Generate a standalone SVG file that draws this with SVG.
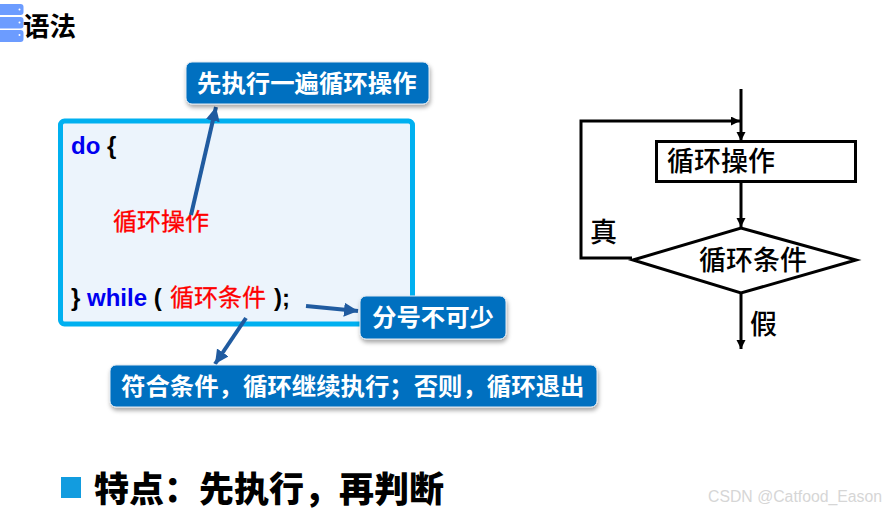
<svg xmlns="http://www.w3.org/2000/svg" width="886" height="511" viewBox="0 0 886 511">
<defs>
<style>
.cjk{font-family:"Liberation Sans","Noto Sans CJK SC",sans-serif}
.b{font-weight:700}
.callout{fill:#0070c0;stroke:#dfe8f0;stroke-width:1;filter:url(#sh)}
.ct{fill:#fff;font-size:24.400px;font-weight:700;font-family:"Liberation Sans","Noto Sans CJK SC",sans-serif}
.code{font-size:24px;font-weight:700;font-family:"Liberation Sans","Noto Sans CJK SC",sans-serif}
.red{fill:#f00;font-size:24px;stroke:#f00;stroke-width:.3;font-family:"Noto Sans CJK SC",sans-serif}
.fc{fill:#000;font-size:27px;font-weight:500;font-family:"Noto Sans CJK SC",sans-serif}
.bl{stroke:#205ba0;stroke-width:4;fill:none}
.k{stroke:#000;stroke-width:3;fill:none}
</style>
<filter id="sh" x="-10%" y="-20%" width="120%" height="150%"><feDropShadow dx="1" dy="3" stdDeviation="2" flood-color="#000" flood-opacity=".35"/></filter>
<marker id="ab" markerUnits="userSpaceOnUse" markerWidth="16" markerHeight="16" refX="14" refY="7" orient="auto"><path d="M0 0L14 7L0 14z" fill="#205ba0"/></marker>
<marker id="ak" markerUnits="userSpaceOnUse" markerWidth="10" markerHeight="10" refX="9" refY="4.500" orient="auto"><path d="M0 0L9 4.500L0 9z" fill="#000"/></marker>
</defs>
<rect width="886" height="511" fill="#fff"/>
<g id="header">
<g fill="#6c9cff"><rect x="-6" y="4" width="29.500" height="11" rx="3"/><rect x="-6" y="17" width="29.500" height="11.500" rx="3"/><rect x="-6" y="30" width="29.500" height="12" rx="3"/></g>
<g fill="#fff"><circle cx="19.500" cy="9.500" r="1"/><circle cx="19.500" cy="22.500" r="1"/><circle cx="19.500" cy="35" r="1"/></g>
<text x="23" y="36" class="cjk b" font-size="26.500">语法</text>
</g>
<g id="code-box">
<rect x="60.500" y="121" width="352" height="203" rx="4" fill="#ecf4fc" stroke="#00b0f0" stroke-width="5"/>
<text x="71" y="154" class="code" fill="#0000f0">do <tspan fill="#000">{</tspan></text>
<text x="113" y="230" class="red">循环操作</text>
<text x="71" y="306" class="code" fill="#000">} <tspan fill="#0000f0">while</tspan> (</text>
<text x="170" y="306" class="red">循环条件</text>
<text x="274" y="306" class="code" fill="#000">);</text>
</g>
<g id="connectors">
<path class="bl" d="M191 215L216 107" marker-end="url(#ab)"/>
<path class="bl" d="M306 306L358 311" marker-end="url(#ab)"/>
<path class="bl" d="M246 318L215 364" marker-end="url(#ab)"/>
<path class="k" d="M741 89V141" marker-end="url(#ak)"/>
<path class="k" d="M632 258H581V121H740" marker-end="url(#ak)"/>
<path class="k" d="M741 182V227" marker-end="url(#ak)"/>
<path class="k" d="M741 294V349" marker-end="url(#ak)"/>
</g>
<g id="callout-1"><rect x="186" y="62" width="243" height="42" rx="6" class="callout"/><text x="197" y="92" class="ct">先执行一遍循环操作</text></g>
<g id="callout-2"><rect x="360" y="296" width="146" height="43" rx="6" class="callout"/><text x="372" y="326" class="ct">分号不可少</text></g>
<g id="callout-3"><rect x="110" y="365" width="487" height="42" rx="6" class="callout"/><text x="121" y="395" class="ct">符合条件，循环继续执行；否则，循环退出</text></g>
<g id="flow-action"><rect x="656.500" y="141.500" width="199" height="40" fill="none" stroke="#000" stroke-width="3"/><text x="667" y="171" class="fc">循环操作</text></g>
<g id="flow-cond"><path d="M633 260L741 228L856 260L741 293z" fill="#fff" stroke="#000" stroke-width="3"/><text x="699" y="270" class="fc">循环条件</text></g>
<g id="flow-labels"><text x="590" y="242" class="fc">真</text><text x="750" y="334" class="fc">假</text></g>
<g id="feature"><rect x="61" y="477" width="20" height="21" fill="#129cdf"/><text x="94" y="502" font-size="35" font-weight="900" font-family="Noto Sans CJK SC,sans-serif">特点：先执行，再判断</text></g>
<text x="708" y="502" font-size="15.800" fill="#d6d6d6" font-family="Liberation Sans,sans-serif">CSDN @Catfood_Eason</text>
</svg>
